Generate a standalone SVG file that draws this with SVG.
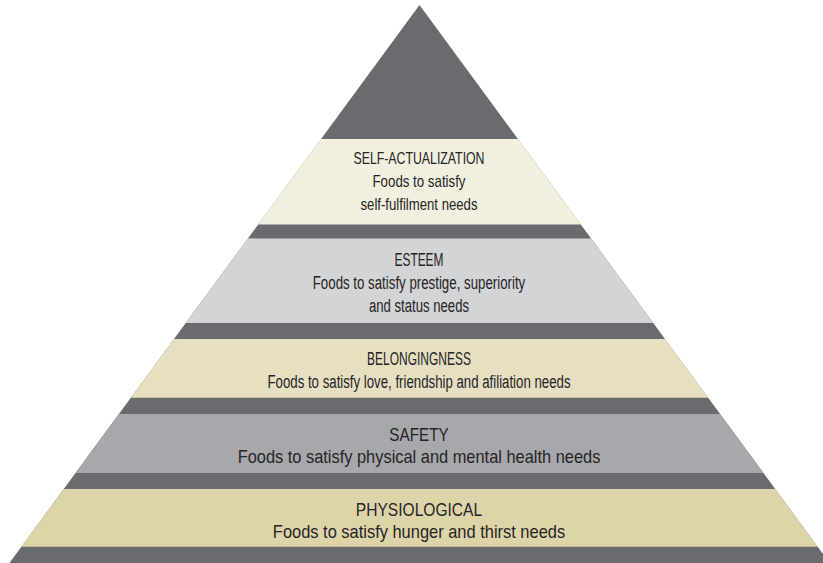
<svg xmlns="http://www.w3.org/2000/svg" width="823" height="563" viewBox="0 0 823 563">
<style>
.dark{fill:#6a6b6f}
.t{font-family:"Liberation Sans Narrow","Liberation Sans",Arial,sans-serif;fill:#262425;text-anchor:middle}
.edge{stroke-width:1;fill:none}
</style>
<rect width="823" height="563" fill="#ffffff"/>
<g id="pyramid-base">
<polygon class="dark" points="419.5,5 9.4,563 829.6,563"/>
</g>
<g id="self-actualization">
<polygon fill="#f2efdf" points="321,139 518,139 580.8,224.5 258.2,224.5"/>
<text class="t" x="419" y="163.5" font-size="17" textLength="131" lengthAdjust="spacingAndGlyphs">SELF-ACTUALIZATION</text>
<text class="t" x="419" y="186.5" font-size="17" textLength="93" lengthAdjust="spacingAndGlyphs">Foods to satisfy</text>
<text class="t" x="419" y="209.5" font-size="17" textLength="117" lengthAdjust="spacingAndGlyphs">self-fulfilment needs</text>
</g>
<g id="esteem">
<polygon fill="#d3d4d6" points="247.9,238.5 591.1,238.5 653.2,323 185.8,323"/>
<text class="t" x="419" y="265.7" font-size="18" textLength="49" lengthAdjust="spacingAndGlyphs">ESTEEM</text>
<text class="t" x="419" y="289" font-size="18" textLength="212.5" lengthAdjust="spacingAndGlyphs">Foods to satisfy prestige, superiority</text>
<text class="t" x="419" y="311.7" font-size="18" textLength="100" lengthAdjust="spacingAndGlyphs">and status needs</text>
</g>
<g id="belongingness">
<polygon fill="#e6dfc2" points="174,339 665,339 708.4,398 130.6,398"/>
<line x1="131" y1="397.5" x2="708" y2="397.5" stroke="#c9bf98" class="edge"/>
<text class="t" x="419" y="365" font-size="18" textLength="104" lengthAdjust="spacingAndGlyphs">BELONGINGNESS</text>
<text class="t" x="419" y="387.7" font-size="18" textLength="303" lengthAdjust="spacingAndGlyphs">Foods to satisfy love, friendship and afiliation needs</text>
</g>
<g id="safety">
<polygon fill="#a7a8ab" points="118.9,414 720.1,414 763.5,473 75.5,473"/>
<text class="t" x="419" y="441" font-size="19" textLength="59.3" lengthAdjust="spacingAndGlyphs">SAFETY</text>
<text class="t" x="419" y="462.7" font-size="19" textLength="362.7" lengthAdjust="spacingAndGlyphs">Foods to satisfy physical and mental health needs</text>
</g>
<g id="physiological">
<polygon fill="#ded4a9" points="63.8,489 775.2,489 817.9,547 21.1,547"/>
<line x1="21.5" y1="546.5" x2="817.5" y2="546.5" stroke="#c4b98c" class="edge"/>
<text class="t" x="419" y="516" font-size="19" textLength="126.3" lengthAdjust="spacingAndGlyphs">PHYSIOLOGICAL</text>
<text class="t" x="419" y="537.7" font-size="19" textLength="292.3" lengthAdjust="spacingAndGlyphs">Foods to satisfy hunger and thirst needs</text>
</g>
<g id="connectors"></g>
</svg>
